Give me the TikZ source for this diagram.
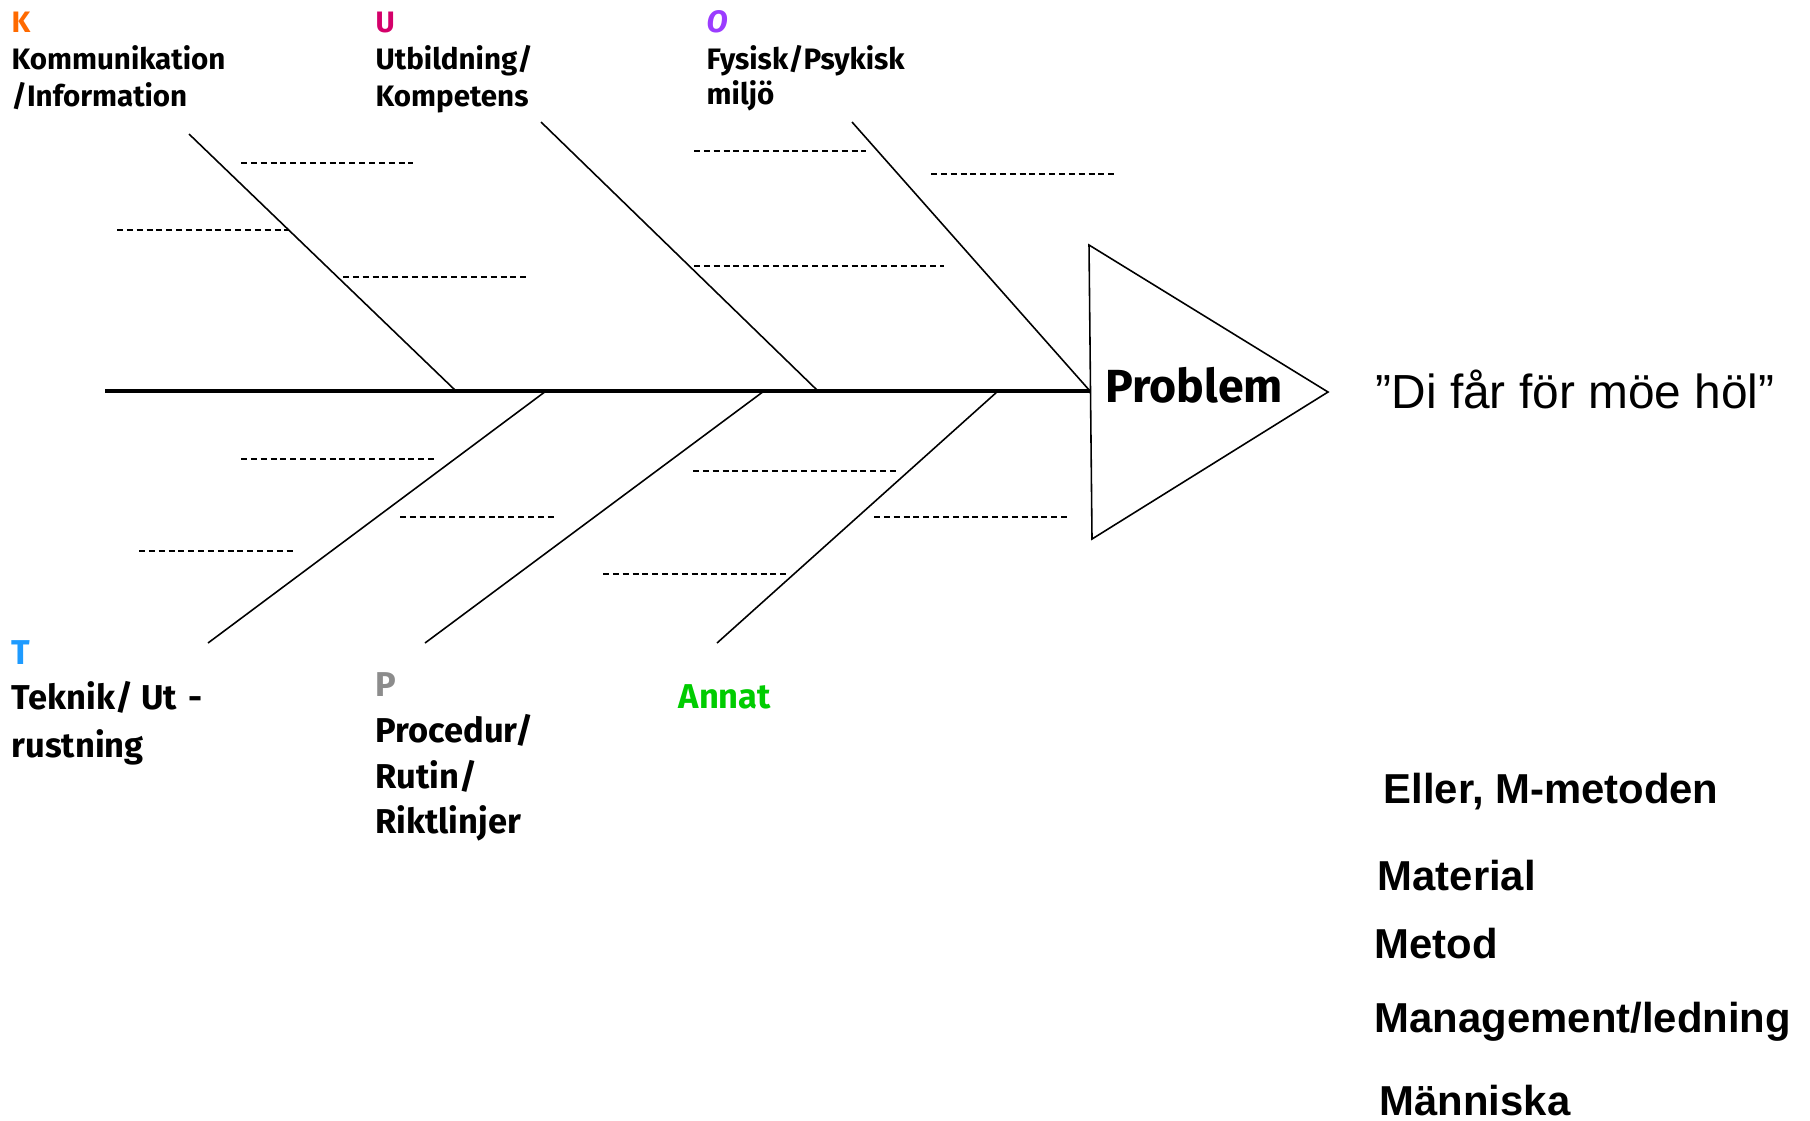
\documentclass[tikz,border=0pt]{standalone}
\usepackage{fontspec}
\setmainfont{Liberation Sans}
\newfontfamily\comicfont{Fira Sans}
\usepackage{xcolor}

\definecolor{kOrange}{RGB}{255,106,0}
\definecolor{uPink}{RGB}{212,0,106}
\definecolor{oPurple}{RGB}{155,60,255}
\definecolor{tBlue}{RGB}{30,155,255}
\definecolor{pGray}{RGB}{140,140,140}
\definecolor{annatGreen}{RGB}{0,204,0}

\tikzset{
  bone/.style={line width=0.45pt},
  spine/.style={line width=0.9pt},
  dashline/.style={line width=0.7pt, dash pattern=on 1.7pt off 1.1pt},
  cat/.style={anchor=base west, inner sep=0pt, font=\comicfont\bfseries\fontsize{8.4}{10}\selectfont},
  catlow/.style={cat, font=\comicfont\bfseries\fontsize{9.8}{11}\selectfont},
  quote/.style={anchor=base west, inner sep=0pt, font=\fontsize{13.6}{16}\selectfont},
  mlist/.style={anchor=base west, inner sep=0pt, font=\bfseries\fontsize{11.9}{14}\selectfont},
}

\begin{document}
\begin{tikzpicture}[x=0.01cm,y=-0.01cm]
    \useasboundingbox (0,0) rectangle (1810,1120);
    % spine and head
    \coordinate (tail) at (105,391);
    \coordinate (head) at (1090,391);
    \coordinate (triTop) at (1089,245);
    \coordinate (triBot) at (1092,539);
    \coordinate (triTip) at (1328,392);
    \draw[spine] (tail) -- (head);
    \draw[bone] (triTop) -- (triTip) -- (triBot) -- cycle;
    \node[cat, font=\comicfont\bfseries\fontsize{13.2}{16}\selectfont] (problem) at (1105,402) {Problem};

    % upper bones
    \coordinate (kTop) at (189,134);
    \coordinate (kFoot) at (456,391);
    \coordinate (uTop) at (541,122);
    \coordinate (uFoot) at (818,391);
    \coordinate (oTop) at (852,122);
    \coordinate (oFoot) at (1090,391);
    \draw[bone] (kTop) -- (kFoot);
    \draw[bone] (uTop) -- (uFoot);
    \draw[bone] (oTop) -- (oFoot);

    % lower bones
    \coordinate (tFoot) at (546,391);
    \coordinate (tEnd) at (208,643);
    \coordinate (pFoot) at (764,391);
    \coordinate (pEnd) at (425,643);
    \coordinate (aFoot) at (998,391);
    \coordinate (aEnd) at (717,643);
    \draw[bone] (tFoot) -- (tEnd);
    \draw[bone] (pFoot) -- (pEnd);
    \draw[bone] (aFoot) -- (aEnd);

    % blank causes
    \draw[dashline] (241,163) -- (413,163);
    \draw[dashline] (117,230) -- (289,230);
    \draw[dashline] (343,277) -- (526,277);
    \draw[dashline] (694,151) -- (866,151);
    \draw[dashline] (931,174) -- (1115,174);
    \draw[dashline] (694,266) -- (944,266);
    \draw[dashline] (241,459) -- (435,459);
    \draw[dashline] (400,517) -- (554,517);
    \draw[dashline] (139,551) -- (294,551);
    \draw[dashline] (603,574) -- (786,574);
    \draw[dashline] (693,471) -- (897,471);
    \draw[dashline] (874,517) -- (1068,517);

    % category labels
    \node[cat, text=kOrange] (kLetter) at (11,32) {K};
    \node[cat] (kName) at (11,69) {Kommunikation};
    \node[cat] (kName2) at (11,106) {/Information};
    \node[cat, text=uPink] (uLetter) at (375,32) {U};
    \node[cat] (uName) at (375,69) {Utbildning/};
    \node[cat] (uName2) at (375,106) {Kompetens};
    \node[cat, text=oPurple, font=\comicfont\bfseries\itshape\fontsize{8.8}{10}\selectfont] (oLetter) at (706,32) {O};
    \node[cat] (oName) at (706,69) {Fysisk/Psykisk};
    \node[cat] (oName2) at (706,104) {miljö};

    \node[catlow, text=tBlue] (tLetter) at (11,664) {T};
    \node[catlow] (tName) at (11,709) {Teknik/ Ut\,\,-};
    \node[catlow] (tName2) at (11,757) {rustning};
    \node[catlow, text=pGray] (pLetter) at (375,696) {P};
    \node[catlow] (pName) at (375,742) {Procedur/};
    \node[catlow] (pName2) at (375,788) {Rutin/};
    \node[catlow] (pName3) at (375,833) {Riktlinjer};
    \node[catlow, text=annatGreen] (annat) at (678,708) {Annat};

    % problem text and the M list
    \node[quote] (saying) at (1375,408) {”Di får för möe höl”};
    \node[mlist] (eller) at (1383,803) {Eller, M-metoden};
    \node[mlist] (material) at (1377,890) {Material};
    \node[mlist] (metod) at (1374,958) {Metod};
    \node[mlist] (mgmt) at (1374,1032) {Management/ledning};
    \node[mlist] (manniska) at (1379,1115) {Människa};
\end{tikzpicture}
\end{document}
